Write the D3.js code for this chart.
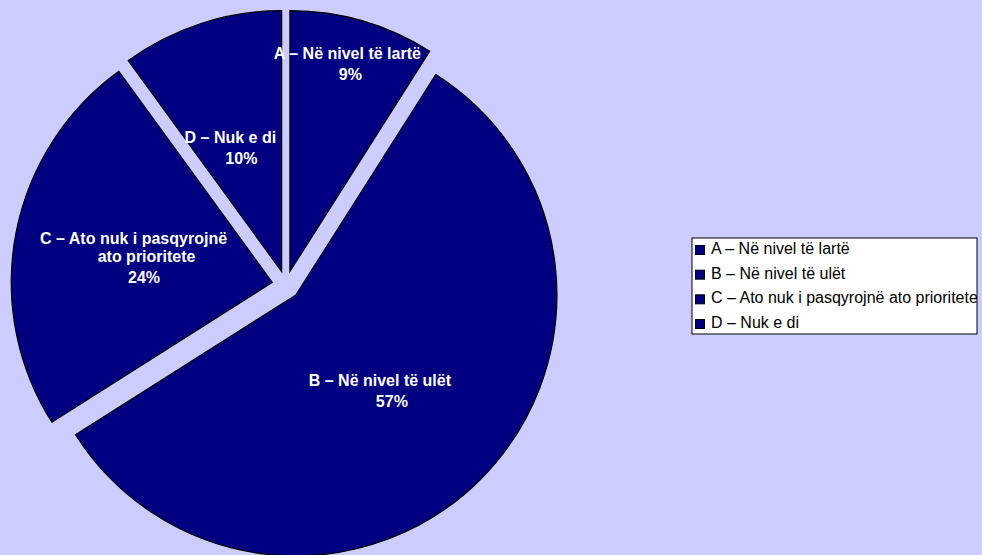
<!DOCTYPE html>
<html>
<head>
<meta charset="utf-8">
<script src="https://cdn.jsdelivr.net/npm/d3@7/dist/d3.min.js"></script>
<style>
  html, body { margin: 0; padding: 0; background: #CCCCFF; }
  svg { display: block; }
</style>
</head>
<body>
<svg id="chart" width="982" height="555"></svg>
<script>
// Answer categories (legend text) and their shares in percent
const categories = [
  "A – Në nivel të lartë",
  "B – Në nivel të ulët",
  "C – Ato nuk i pasqyrojnë ato prioritete",
  "D – Nuk e di"
];
const values = [9, 57, 24, 10];
// Category names as they wrap inside the slices
const sliceLabelLines = [
  ["A – Në nivel të lartë"],
  ["B – Në nivel të ulët"],
  ["C – Ato nuk i pasqyrojnë", "ato prioritete"],
  ["D – Nuk e di"]
];

const W = 982, H = 555;
const cx = 286, cy = 285, radius = 261, explode = 14;
const fill = "#000080";
const labelFont = "'Liberation Sans', Arial, sans-serif";

// label placement: fraction of radius along slice bisector, and x shifts per name line
const labelRadiusFrac = [0.83, 0.52, 0.5, 0.5];
const nameLineDx = [[-3], [-12], [-10.5, 2.5], [-11]];

const svg = d3.select("#chart");
svg.append("rect").attr("width", W).attr("height", H).attr("fill", "#CCCCFF");

const pie = d3.pie().sort(null).value(d => d).startAngle(0).endAngle(2 * Math.PI);
const arcs = pie(values);
const arc = d3.arc().innerRadius(0).outerRadius(radius);
const pctFmt = v => d3.format(".0f")(v) + "%";
const total = d3.sum(values);
const midAngle = d => (d.startAngle + d.endAngle) / 2;
const shift = d => `translate(${explode * Math.sin(midAngle(d))},${-explode * Math.cos(midAngle(d))})`;

const g = svg.append("g").attr("transform", `translate(${cx},${cy})`);

// exploded slices
g.append("g").selectAll("path")
  .data(arcs)
  .join("path")
  .attr("transform", shift)
  .attr("d", arc)
  .attr("fill", fill)
  .attr("stroke", "#000")
  .attr("stroke-width", 1.2)
  .attr("stroke-linejoin", "miter");

// in-slice labels, drawn above every slice
const fontSize = 16, capHalf = 5.7, nameGap = 18, pctGap = 21;
const labels = g.append("g").selectAll("g")
  .data(arcs)
  .join("g")
  .attr("transform", shift);

labels.each(function(d, i) {
  const mid = midAngle(d);
  const rho = radius * labelRadiusFrac[i];
  const ax = rho * Math.sin(mid), ay = -rho * Math.cos(mid);
  const lines = sliceLabelLines[i];
  const span = (lines.length - 1) * nameGap + pctGap;
  const y0 = ay - span / 2 + capHalf;
  const sel = d3.select(this);
  lines.forEach((t, k) => {
    sel.append("text")
      .attr("x", ax + (nameLineDx[i][k] || 0))
      .attr("y", y0 + k * nameGap)
      .attr("text-anchor", "middle")
      .attr("fill", "#fff")
      .attr("font-family", labelFont)
      .attr("font-weight", "bold")
      .attr("font-size", fontSize)
      .text(t);
  });
  sel.append("text")
    .attr("x", ax)
    .attr("y", y0 + (lines.length - 1) * nameGap + pctGap)
    .attr("text-anchor", "middle")
    .attr("fill", "#fff")
    .attr("font-family", labelFont)
    .attr("font-weight", "bold")
    .attr("font-size", fontSize)
    .text(pctFmt(d.data / total * 100));
});

// legend
const legX = 692, legY = 238, legW = 285, legH = 96;
const legend = svg.append("g");
legend.append("rect")
  .attr("x", legX).attr("y", legY).attr("width", legW).attr("height", legH)
  .attr("fill", "#fff").attr("stroke", "#000").attr("stroke-width", 1);

const rowY = d3.scalePoint().domain(categories).range([legY + 16, legY + 90]);
const rows = legend.selectAll("g.row").data(categories).join("g").attr("class", "row");
rows.append("rect")
  .attr("x", legX + 3.5)
  .attr("y", d => rowY(d) - 8.5)
  .attr("width", 9).attr("height", 9)
  .attr("fill", fill).attr("stroke", "#000").attr("stroke-width", 1);
rows.append("text")
  .attr("x", legX + 19)
  .attr("y", d => rowY(d))
  .attr("font-family", labelFont)
  .attr("font-size", 16)
  .attr("fill", "#000")
  .text(d => d);
</script>
</body>
</html>
